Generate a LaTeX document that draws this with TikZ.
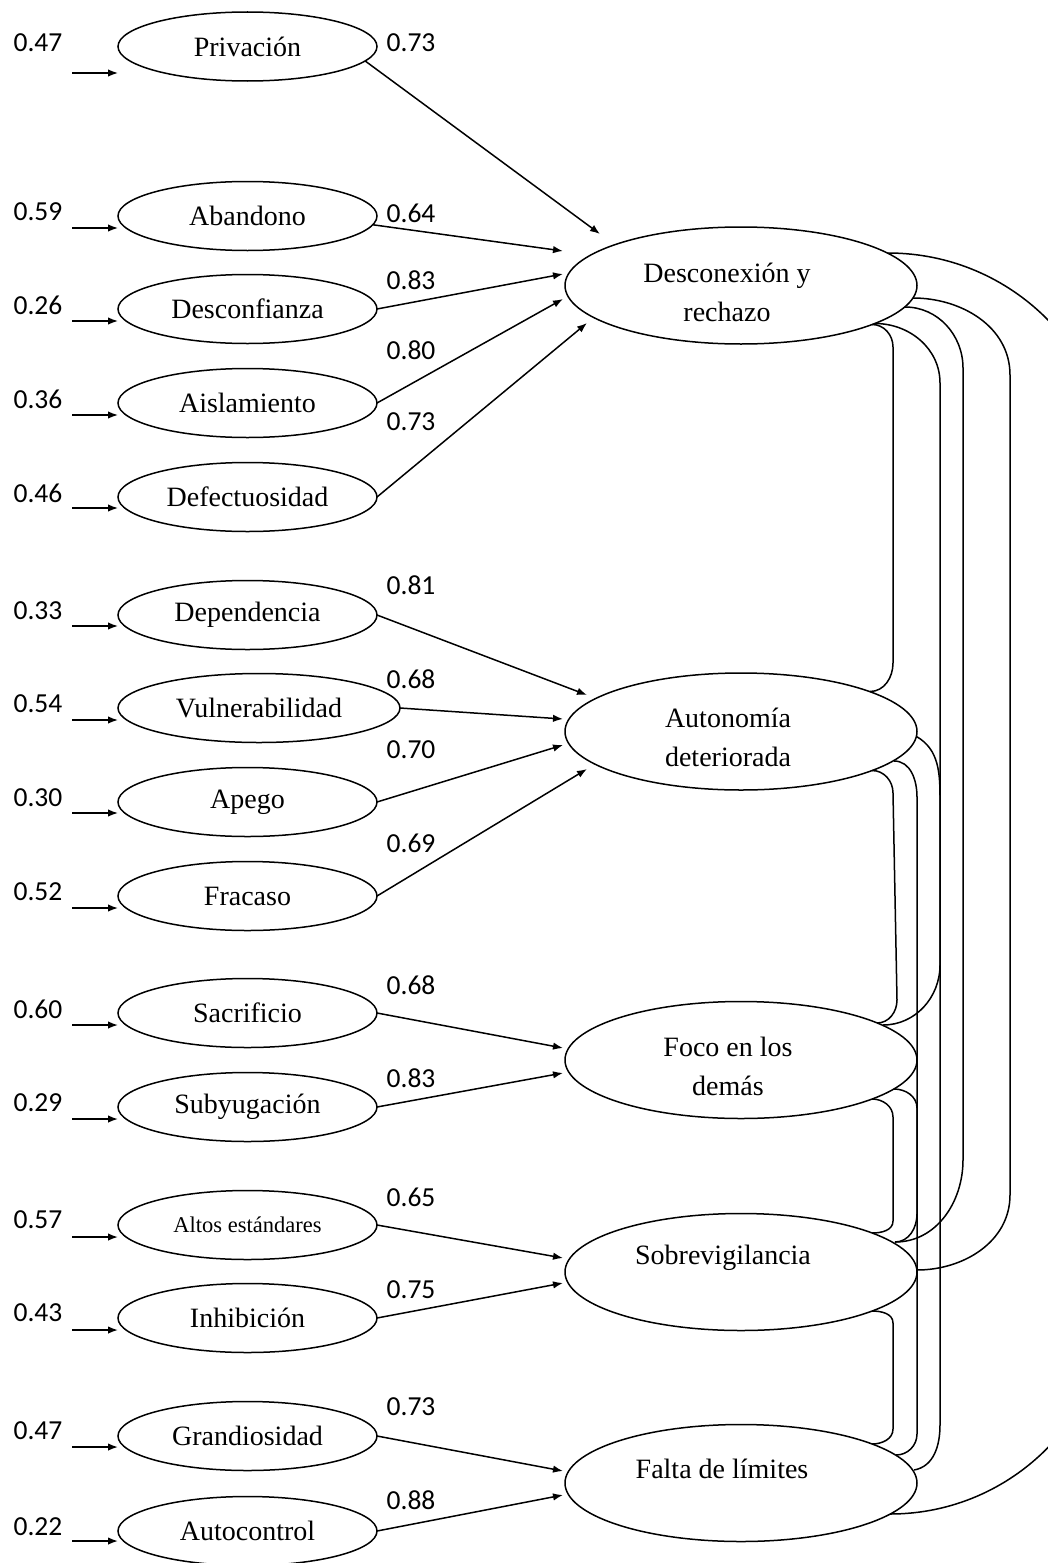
\documentclass[tikz,border=0pt]{standalone}
\usepackage{fontspec}
\setmainfont{Liberation Serif}
\newfontfamily\numfont{Carlito}
\usetikzlibrary{shapes.geometric,arrows.meta,calc}
\begin{document}
\begin{tikzpicture}[x=1pt,y=-1pt,line width=1.5pt,
  obs/.style={ellipse,draw,minimum width=259pt,minimum height=69pt,inner sep=0pt,outer sep=0pt,font=\fontsize{28}{33}\selectfont},
  lat/.style={ellipse,draw,minimum width=352pt,minimum height=117pt,inner sep=0pt,outer sep=0pt},
  lattxt/.style={align=center,inner sep=0pt,font=\fontsize{28}{39}\selectfont},
  num/.style={inner sep=0pt,font=\numfont\fontsize{27.5}{27.5}\selectfont},
  arr/.style={-{Latex[length=10pt,width=7.5pt]}}]
\useasboundingbox (0,0) rectangle (1048,1563);
\clip (0,0) rectangle (1048,1563);

% observed variables
\node[obs] (priv) at (247.5,46.5) {Privación};
\node[obs] (aban) at (247.5,216) {Abandono};
\node[obs] (desc) at (247.5,309) {Desconfianza};
\node[obs] (aisl) at (247.5,403) {Aislamiento};
\node[obs] (defe) at (247.5,497) {Defectuosidad};
\node[obs] (depe) at (247.5,615) {Dependencia};
\node[obs,minimum width=282pt] (vuln) at (259,708) {Vulnerabilidad};
\node[obs] (apeg) at (247.5,802) {Apego};
\node[obs] (frac) at (247.5,896) {Fracaso};
\node[obs] (sacr) at (247.5,1013) {Sacrificio};
\node[obs] (suby) at (247.5,1107) {Subyugación};
\node[obs,font=\fontsize{22.5}{27}\selectfont] (alto) at (247.5,1225) {Altos estándares};
\node[obs] (inhi) at (247.5,1318) {Inhibición};
\node[obs] (gran) at (247.5,1436) {Grandiosidad};
\node[obs] (auto) at (247.5,1531) {Autocontrol};

% latent factors
\node[lat] (D) at (741,285.5) {};
\node[lattxt] (Dt) at (727,292) {Desconexión y\\rechazo};
\node[lat] (A) at (741,731.5) {};
\node[lattxt] (At) at (728,737) {Autonomía\\deteriorada};
\node[lat] (F) at (741,1060) {};
\node[lattxt] (Ft) at (728,1066) {Foco en los\\demás};
\node[lat] (S) at (741,1272) {};
\node[lattxt] (St) at (723,1258) {Sobrevigilancia};
\node[lat] (L) at (741,1483) {};
\node[lattxt] (Lt) at (722,1469) {Falta de límites};

% error labels
\node[num] (epriv) at (38,43) {0.47};
\node[num] (eaban) at (38,212) {0.59};
\node[num] (edesc) at (38,305) {0.26};
\node[num] (eaisl) at (38,399) {0.36};
\node[num] (edefe) at (38,493) {0.46};
\node[num] (edepe) at (38,611) {0.33};
\node[num] (evuln) at (38,704) {0.54};
\node[num] (eapeg) at (38,798) {0.30};
\node[num] (efrac) at (38,892) {0.52};
\node[num] (esacr) at (38,1009) {0.60};
\node[num] (esuby) at (38,1103) {0.29};
\node[num] (ealto) at (38,1220) {0.57};
\node[num] (einhi) at (38,1313) {0.43};
\node[num] (egran) at (38,1431) {0.47};
\node[num] (eauto) at (38,1527) {0.22};

% error arrows
\foreach \n/\dy in {priv/26.5,aban/12,desc/12,aisl/12,defe/11,depe/11,vuln/12,apeg/11,frac/12,sacr/12,suby/12,alto/12,inhi/12,gran/11,auto/10}{
  \coordinate (s\n) at ($(\n.center)+(0,\dy)$);
  \coordinate (t\n) at (72,0);
  \draw[arr] (t\n |- s\n) -- (\n.west |- s\n);
}

% loading labels
\node[num] (lpriv) at (411,43) {0.73};
\node[num] (laban) at (411,213) {0.64};
\node[num] (ldesc) at (411,280) {0.83};
\node[num] (laisl) at (411,350) {0.80};
\node[num] (ldefe) at (411,422) {0.73};
\node[num] (ldepe) at (411,585) {0.81};
\node[num] (lvuln) at (411,679) {0.68};
\node[num] (lapeg) at (411,750) {0.70};
\node[num] (lfrac) at (411,843) {0.69};
\node[num] (lsacr) at (411,985) {0.68};
\node[num] (lsuby) at (411,1078) {0.83};
\node[num] (lalto) at (411,1197) {0.65};
\node[num] (linhi) at (411,1290) {0.75};
\node[num] (lgran) at (411,1407) {0.73};
\node[num] (lauto) at (411,1500) {0.88};

% loadings
\draw[arr] (priv.-7) -- ($(D)+(-141,-51.5)$);
\draw[arr] (aban.-4) -- ($(D)+(-178,-34.5)$);
\draw[arr] (desc.east) -- ($(D)+(-178,-11.5)$);
\draw[arr] (aisl.east) -- ($(D)+(-178,13.5)$);
\draw[arr] (defe.east) -- ($(D)+(-154,37.5)$);
\draw[arr] (depe.east) -- ($(A)+(-154,-36.5)$);
\draw[arr] (vuln.east) -- ($(A)+(-178,-12.5)$);
\draw[arr] (apeg.east) -- ($(A)+(-178,13.5)$);
\draw[arr] (frac.east) -- ($(A)+(-154,37.5)$);
\draw[arr] (sacr.east) -- ($(F)+(-178,-12)$);
\draw[arr] (suby.east) -- ($(F)+(-178,13)$);
\draw[arr] (alto.east) -- ($(S)+(-178,-14)$);
\draw[arr] (inhi.east) -- ($(S)+(-178,11)$);
\draw[arr] (gran.east) -- ($(L)+(-178,-12)$);
\draw[arr] (auto.east) -- ($(L)+(-178,12)$);

% correlations
\draw ($(D)+(147,-32.5)$) to[out=0,in=90] (1112,477) -- (1112,1290) to[out=-90,in=0] ($(L)+(149,31)$);
\draw ($(D)+(172,12.5)$) to[out=0,in=90] (1010,375) -- (1010,1195) to[out=-90,in=0] ($(S)+(176,-2)$);
\draw ($(D)+(164,21.5)$) to[out=0,in=90] (963,368) -- (963,1160) to[out=-90,in=0] ($(S)+(154,-30)$);
\draw ($(D)+(134,38)$) to[out=0,in=90] (940,383) -- (940,965) to[out=-90,in=0] ($(F)+(142,-35)$);
\draw ($(D)+(131,39)$) to[out=0,in=90] (893,347) -- (893,663) to[out=-90,in=0] ($(A)+(129,-40)$);
\draw ($(A)+(175.5,5)$) to[out=-30,in=90] (940,800) -- (940,1425) to[out=-90,in=10] ($(L)+(173,-13)$);
\draw ($(A)+(153,29.5)$) to[out=0,in=90] (917,797) -- (917,1214) to[out=-90,in=0] ($(S)+(154,-30)$);
\draw ($(F)+(153,29)$) to[out=0,in=90] (917,1108) -- (917,1434) to[out=-90,in=0] ($(L)+(155,-28)$);
\draw ($(A)+(131,39)$) to[out=0,in=90] (893,793) -- (897,1000) to[out=-90,in=0] ($(F)+(136,-37)$);
\draw ($(F)+(131,39)$) to[out=0,in=90] (893,1117) -- (893,1221) to[out=-90,in=0] ($(S)+(131,-39)$);
\draw ($(S)+(131,39)$) to[out=0,in=90] (893,1323) -- (893,1429) to[out=-90,in=0] ($(L)+(131,-39)$);
\end{tikzpicture}
\end{document}
